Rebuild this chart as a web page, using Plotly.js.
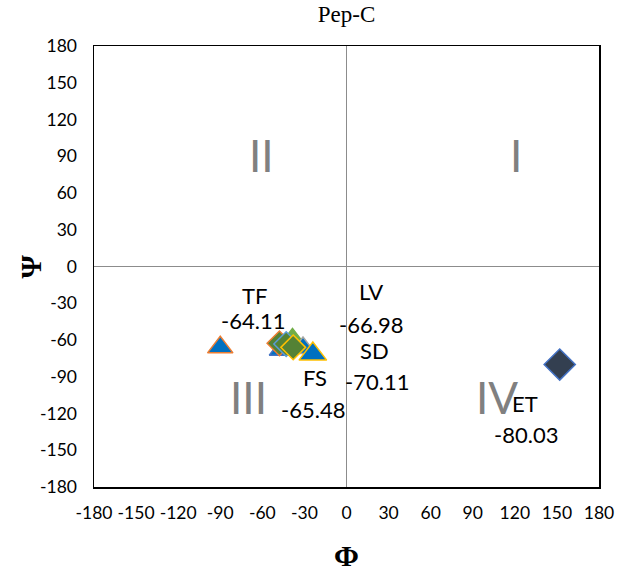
<!DOCTYPE html>
<html>
<head>
<meta charset="utf-8">
<script src="https://cdn.plot.ly/plotly-3.0.1.min.js"></script>
<style>html,body{margin:0;padding:0;background:#fff;}#chart{width:619px;height:575px;}</style>
</head>
<body>
<div id="chart"></div>
<script>
// Data (phi, psi) for each marker
const markerNames = ["TF", "S2", "S3", "S4", "S5", "S6", "S7", "FS", "ET"];
const phiValues = [-90, -46, -38.5, -31, -47.8, -43, -38, -24, 152];
const psiValues = [-66, -68, -59.5, -66.5, -62.7, -63.3, -66, -71.5, -80.03];

// Label texts and their anchor positions (in data units)
const labelTexts = ["TF", "-64.11", "LV", "-66.98", "SD", "-70.11", "FS", "-65.48", "ET", "-80.03"];
const labelPhi = [-65.6, -67, 17.8, 17.8, 20, 21.5, -22.8, -24, 127.6, 128];
const labelPsi = [-24, -44, -20.5, -47.5, -68.5, -94, -90.5, -117, -112, -137];

// Quadrant numerals
const quadrantTexts = ["II", "I", "III", "IV"];
const quadrantPhi = [-60.6, 121, -70, 107];
const quadrantPsi = [91, 91, -106.5, -106.5];

const tickVals = [-180, -150, -120, -90, -60, -30, 0, 30, 60, 90, 120, 150, 180];

// Styles
const styles = [
  {symbol: "triangle-up", size: 22, fill: "#0070C0", line: "#ED7D31"},
  {symbol: "triangle-up", size: 22, fill: "#0070C0", line: "#4472C4"},
  {symbol: "triangle-up", size: 22, fill: "#70AD47", line: "#70AD47"},
  {symbol: "triangle-up", size: 22, fill: "#0070C0", line: "#A5A5A5"},
  {symbol: "diamond", size: 19, fill: "#548235", line: "#ED7D31"},
  {symbol: "diamond", size: 19, fill: "#548235", line: "#5B9BD5"},
  {symbol: "diamond", size: 19, fill: "#548235", line: "#FFC000"},
  {symbol: "triangle-up", size: 24, fill: "#0070C0", line: "#FFC000"},
  {symbol: "diamond", size: 24, fill: "#333F50", line: "#4472C4"}
];

const traces = markerNames.map((n, i) => ({
  type: "scatter", mode: "markers", name: n,
  x: [phiValues[i]], y: [psiValues[i]],
  marker: {symbol: styles[i].symbol, size: styles[i].size, color: styles[i].fill,
           line: {color: styles[i].line, width: 1.5}},
  hoverinfo: "x+y+name", showlegend: false, cliponaxis: false
}));

const annotations = [];
labelTexts.forEach((t, i) => annotations.push({
  x: labelPhi[i], y: labelPsi[i], xref: "x", yref: "y", text: t, showarrow: false,
  font: {family: "Lato, 'Open Sans', sans-serif", size: 22, color: "#000"}
}));
quadrantTexts.forEach((t, i) => annotations.push({
  x: quadrantPhi[i], y: quadrantPsi[i], xref: "x", yref: "y", text: t, showarrow: false,
  font: {family: "Lato, 'Open Sans', sans-serif", size: 44, color: "#808080"}
}));
// Psi axis title placed precisely
annotations.push({
  x: (30 - 94) / (619 - 94 - 20), y: 0, xref: "paper", yref: "y",
  xanchor: "center", yanchor: "middle",
  text: "<b>Ψ</b>", textangle: -90, showarrow: false,
  font: {family: "'Liberation Serif', serif", size: 30, color: "#000"}
});

const axisCommon = {
  range: [-180, 180], tickvals: tickVals, ticktext: tickVals.map(String),
  showgrid: false, zeroline: true, zerolinecolor: "#8C8C8C", zerolinewidth: 1,
  showline: true, mirror: true, linecolor: "#000", linewidth: 1.5,
  ticks: "", fixedrange: true,
  tickfont: {family: "Lato, 'Open Sans', sans-serif", size: 17.5, color: "#000"}
};

const layout = {
  width: 619, height: 575,
  margin: {l: 94, r: 20, t: 46, b: 88},
  paper_bgcolor: "#fff", plot_bgcolor: "#fff",
  title: {text: "Pep-C", x: 0.5, xref: "paper", y: 1 - 14/575, yref: "container", yanchor: "middle",
          font: {family: "'Liberation Serif', 'Times New Roman', serif", size: 23, color: "#000"}},
  xaxis: Object.assign({}, axisCommon, {
    title: {text: "Φ", standoff: 23, font: {family: "'Liberation Serif', serif", size: 30, color: "#000", weight: "bold"}},
    ticklabelstandoff: 9
  }),
  yaxis: Object.assign({}, axisCommon, {
    ticklabelstandoff: 12
  }),
  annotations: annotations,
  showlegend: false
};

Plotly.newPlot("chart", traces, layout, {displayModeBar: false, staticPlot: true});
</script>
</body>
</html>
